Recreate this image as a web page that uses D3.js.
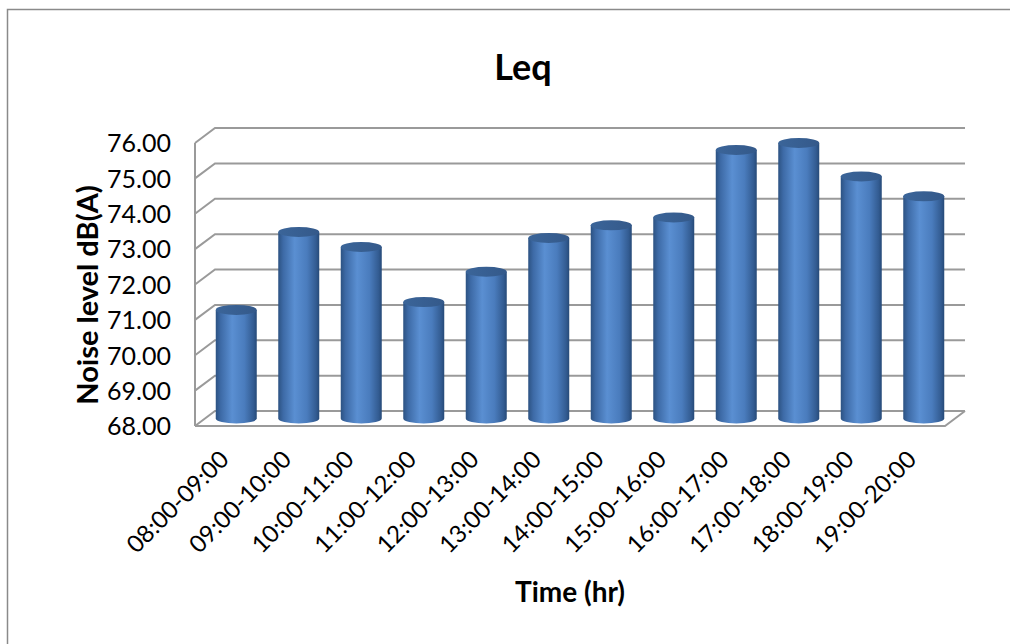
<!DOCTYPE html>
<html>
<head>
<meta charset="utf-8">
<script src="https://cdn.jsdelivr.net/npm/d3@7"></script>
<style>
  body { margin: 0; background: #fff; }
  text { font-family: Lato, "Open Sans", sans-serif; fill: #000; }
</style>
</head>
<body>
<div id="chart"></div>
<script>
// data
const categories = ["08:00-09:00", "09:00-10:00", "10:00-11:00", "11:00-12:00", "12:00-13:00", "13:00-14:00",
    "14:00-15:00", "15:00-16:00", "16:00-17:00", "17:00-18:00", "18:00-19:00", "19:00-20:00"];
const leq = [71.07, 73.27, 72.85, 71.29, 72.15, 73.10, 73.46, 73.68, 75.59, 75.79, 74.84, 74.28];
const yTicks = [68, 69, 70, 71, 72, 73, 74, 75, 76];

const W = 1010, H = 644;
const front = { left: 195, right: 945, top: 143, bottom: 426 };
const depth = { dx: 20, dy: -15 };

const svg = d3.select("#chart").append("svg")
    .attr("width", W)
    .attr("height", H);

// chart border
svg.append("rect")
    .attr("x", 7.5).attr("y", 9.5)
    .attr("width", W).attr("height", H)
    .attr("fill", "none")
    .attr("stroke", "#8a8a8a")
    .attr("stroke-width", 1.5);

const x = d3.scaleBand()
    .domain(categories)
    .range([front.left, front.right]);

const y = d3.scaleLinear()
    .domain([68, 76])
    .range([front.bottom, front.top]);

// gradients for cylinders
const defs = svg.append("defs");
const body = defs.append("linearGradient").attr("id", "cylBody")
    .attr("x1", "0%").attr("x2", "100%").attr("y1", "0%").attr("y2", "0%");
[["0%", "#2c5282"], ["12%", "#3d6aa6"], ["40%", "#5a8fd2"], ["70%", "#4a7cbd"], ["92%", "#335c92"], ["100%", "#264a78"]]
    .forEach(s => body.append("stop").attr("offset", s[0]).attr("stop-color", s[1]));
const topG = defs.append("linearGradient").attr("id", "cylTop")
    .attr("x1", "0%").attr("x2", "100%").attr("y1", "0%").attr("y2", "0%");
[["0%", "#3b6599"], ["100%", "#34598a"]]
    .forEach(s => topG.append("stop").attr("offset", s[0]).attr("stop-color", s[1]));

// walls & gridlines
const grid = svg.append("g").attr("stroke", "#9a9a9a").attr("stroke-width", 2).attr("fill", "none");
grid.selectAll(".gl")
    .data(yTicks)
    .enter().append("path")
    .attr("d", d => `M${front.left},${y(d)} L${front.left + depth.dx},${y(d) + depth.dy} L${front.right + depth.dx},${y(d) + depth.dy}`);
// left wall edge
grid.append("line")
    .attr("x1", front.left).attr("x2", front.left)
    .attr("y1", y(76)).attr("y2", y(68));
// floor front edge and right edge
grid.append("path")
    .attr("d", `M${front.left},${y(68)} L${front.right},${y(68)} L${front.right + depth.dx},${y(68) + depth.dy}`);

// cylinders
const rx = 20.5, ry = 5;
const off = { dx: depth.dx / 2, dy: depth.dy / 2 };
const bars = svg.append("g");
const cyl = bars.selectAll(".cyl")
    .data(categories.map((c, i) => ({ c, v: leq[i] })))
    .enter().append("g").attr("class", "cyl");

cyl.append("path")
    .attr("fill", "url(#cylBody)")
    .attr("d", d => {
        const cx = x(d.c) + x.bandwidth() / 2 + off.dx;
        const yt = y(d.v) + off.dy;
        const yb = y(68) + off.dy;
        return `M${cx - rx},${yt} L${cx - rx},${yb} A${rx},${ry} 0 0 0 ${cx + rx},${yb} L${cx + rx},${yt} Z`;
    });

cyl.append("ellipse")
    .attr("cx", d => x(d.c) + x.bandwidth() / 2 + off.dx)
    .attr("cy", d => y(d.v) + off.dy)
    .attr("rx", rx).attr("ry", ry)
    .attr("fill", "url(#cylTop)");

// y tick labels
svg.selectAll(".ytick")
    .data(yTicks)
    .enter().append("text")
    .attr("x", 171)
    .attr("y", d => y(d) + 3)
    .attr("text-anchor", "end")
    .attr("dominant-baseline", "middle")
    .attr("font-size", 25)
    .text(d => d3.format(".2f")(d));

// category labels
svg.selectAll(".xtick")
    .data(categories)
    .enter().append("text")
    .attr("text-anchor", "end")
    .attr("font-size", 24)
    .attr("transform", d => `translate(${x(d) + x.bandwidth() / 2 + 4},${461}) rotate(-45)`)
    .text(d => d);

// titles
svg.append("text")
    .attr("x", 523).attr("y", 80)
    .attr("text-anchor", "middle")
    .attr("font-size", 36)
    .attr("font-weight", "bold")
    .text("Leq");

svg.append("text")
    .attr("transform", `translate(88,${295}) rotate(-90)`)
    .attr("text-anchor", "middle")
    .attr("dy", "0.35em")
    .attr("font-size", 29)
    .attr("font-weight", "bold")
    .text("Noise level dB(A)");

svg.append("text")
    .attr("x", 570).attr("y", 602)
    .attr("text-anchor", "middle")
    .attr("font-size", 28)
    .attr("font-weight", "bold")
    .text("Time (hr)");
</script>
</body>
</html>
